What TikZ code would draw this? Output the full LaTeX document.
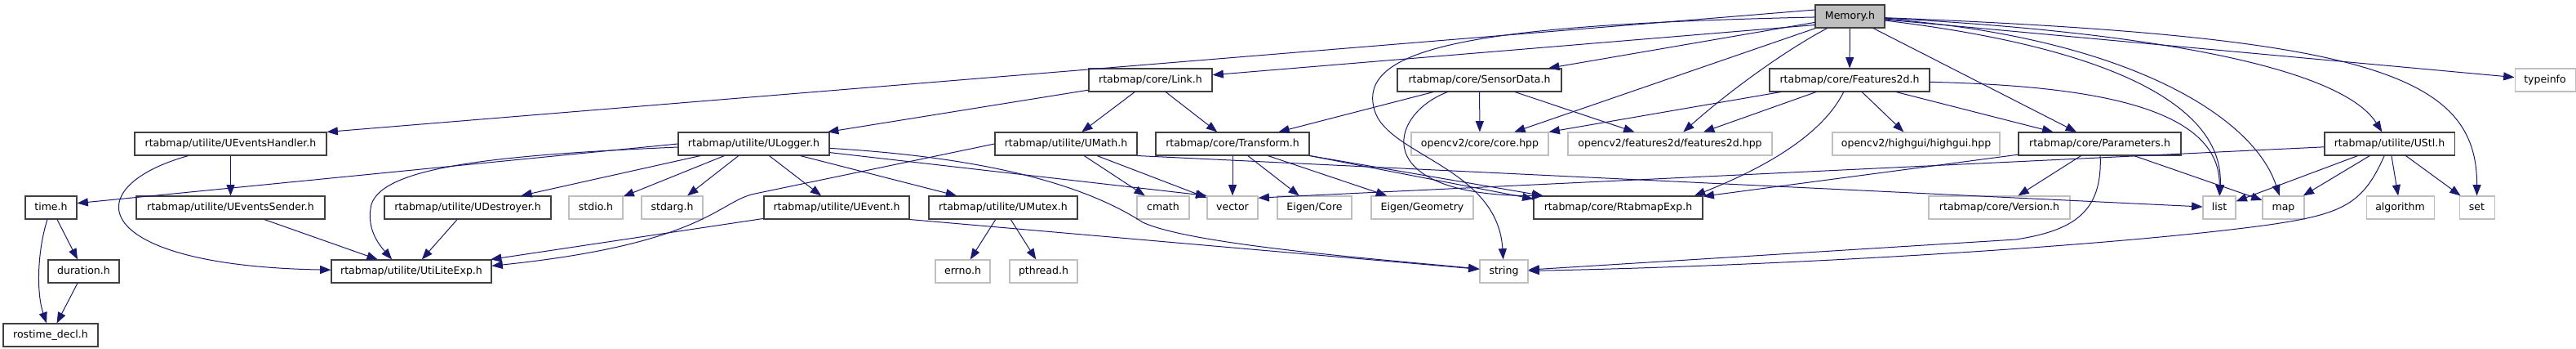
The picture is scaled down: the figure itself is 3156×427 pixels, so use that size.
\documentclass[tikz,border=0pt]{standalone}
\usepackage{fontspec}
\setmainfont{DejaVu Sans}
\usepackage{xcolor}
\definecolor{graph-edge}{HTML}{191970}
\definecolor{graph-box}{HTML}{404040}
\definecolor{graph-grey}{HTML}{BFBFBF}
\usepackage{tikz}
\usetikzlibrary{arrows.meta}

\tikzset{
    file/.style={fill=white, line width=0.8pt, inner sep=0pt, minimum height=21pt,
        minimum width=#1*0.75pt, text height=7pt, text depth=2pt,
        font=\fontsize{9.4}{11}\selectfont},
    hfile/.style={file=#1, draw=graph-box},
    sysfile/.style={file=#1, draw=graph-grey},
    incl/.style={graph-edge, line width=0.75pt, -{Triangle[length=10pt, width=7.5pt]}}
}

\begin{document}
\begin{tikzpicture}[x=0.75pt, y=-0.75pt]

    \useasboundingbox (0,0) rectangle (3156,427);

    % Root file
    \node[hfile=85, fill=graph-grey] (memory) at (2266.5,20) {Memory.h};

    % First level
    \node[hfile=151] (link) at (1409.5,98) {rtabmap/core/Link.h};
    \node[hfile=201] (sensordata) at (1812.5,98) {rtabmap/core/SensorData.h};
    \node[hfile=196] (features2d) at (2266,98) {rtabmap/core/Features2d.h};
    \node[sysfile=74] (typeinfo) at (3118,98) {typeinfo};

    % Second level
    \node[hfile=235] (ueventshandler) at (282.5,176) {rtabmap/utilite/UEventsHandler.h};
    \node[hfile=185] (ulogger) at (923.5,176) {rtabmap/utilite/ULogger.h};
    \node[hfile=174] (umath) at (1306,176) {rtabmap/utilite/UMath.h};
    \node[hfile=188] (transform) at (1510,176) {rtabmap/core/Transform.h};
    \node[sysfile=168] (corehpp) at (1813,176) {opencv2/core/core.hpp};
    \node[sysfile=250] (features2dhpp) at (2046,176) {opencv2/features2d/features2d.hpp};
    \node[sysfile=205] (highguihpp) at (2347.5,176) {opencv2/highgui/highgui.hpp};
    \node[hfile=199] (parameters) at (2572.5,176) {rtabmap/core/Parameters.h};
    \node[hfile=159] (ustl) at (2927.5,176) {rtabmap/utilite/UStl.h};

    % Third level
    \node[hfile=63] (timeh) at (62.5,254) {time.h};
    \node[hfile=231] (ueventssender) at (282.5,254) {rtabmap/utilite/UEventsSender.h};
    \node[hfile=204] (udestroyer) at (573,254) {rtabmap/utilite/UDestroyer.h};
    \node[sysfile=66] (stdio) at (730,254) {stdio.h};
    \node[sysfile=75] (stdarg) at (823.5,254) {stdarg.h};
    \node[hfile=178] (uevent) at (1025,254) {rtabmap/utilite/UEvent.h};
    \node[hfile=182] (umutex) at (1229,254) {rtabmap/utilite/UMutex.h};
    \node[sysfile=64] (cmath) at (1425,254) {cmath};
    \node[sysfile=62] (vector) at (1510,254) {vector};
    \node[sysfile=91] (eigencore) at (1610.5,254) {Eigen/Core};
    \node[sysfile=125] (eigengeometry) at (1742.5,254) {Eigen/Geometry};
    \node[hfile=207] (rtabmapexp) at (1982.5,254) {rtabmap/core/RtabmapExp.h};
    \node[sysfile=173] (version) at (2449.5,254) {rtabmap/core/Version.h};
    \node[sysfile=40] (list) at (2719,254) {list};
    \node[sysfile=51] (map) at (2797.5,254) {map};
    \node[sysfile=83] (algorithm) at (2940.5,254) {algorithm};
    \node[sysfile=43] (set) at (3034.5,254) {set};

    % Fourth and fifth level
    \node[hfile=87] (duration) at (102.5,332) {duration.h};
    \node[hfile=196] (utiliteexp) at (504,332) {rtabmap/utilite/UtiLiteExp.h};
    \node[sysfile=67] (errno) at (1179.5,332) {errno.h};
    \node[sysfile=83] (pthread) at (1278.5,332) {pthread.h};
    \node[sysfile=59] (string) at (1842.5,332) {string};
    \node[hfile=116] (rostimedecl) at (62,410) {rostime\_decl.h};

    % Memory.h
    \draw[incl] ([yshift=6pt]memory.west) -- (ueventshandler.north east);
    \draw[incl] ([yshift=3pt]memory.south west) -- (link);
    \draw[incl] (memory) -- (sensordata);
    \draw[incl] (memory) .. controls (1820,30) and (1660,55) .. (1684,135) .. controls (1700,190) and (1835,205) .. (string);
    \draw[incl] (memory) -- (corehpp);
    \draw[incl] (memory) .. controls (2190,60) and (2120,110) .. (features2dhpp);
    \draw[incl] (memory) -- (features2d);
    \draw[incl] (memory) -- (parameters);
    \draw[incl] (memory) .. controls (2560,55) and (2725,120) .. (list);
    \draw[incl] (memory) .. controls (2600,45) and (2760,140) .. (map);
    \draw[incl] (memory) .. controls (2650,40) and (2870,85) .. (ustl);
    \draw[incl] (memory) .. controls (2900,45) and (3035,90) .. (set);
    \draw[incl] (memory) -- (typeinfo);

    % Link.h
    \draw[incl] (link) -- (ulogger);
    \draw[incl] (link) -- (umath);
    \draw[incl] (link) -- (transform);

    % SensorData.h
    \draw[incl] (sensordata) -- (transform);
    \draw[incl] (sensordata) -- (corehpp);
    \draw[incl] (sensordata) -- (features2dhpp);
    \draw[incl] (sensordata) .. controls (1700,140) and (1675,240) .. ([xshift=9pt]rtabmapexp.north west);

    % Features2d.h
    \draw[incl] (features2d) -- (corehpp);
    \draw[incl] (features2d) -- (features2dhpp);
    \draw[incl] (features2d) -- (highguihpp);
    \draw[incl] (features2d) .. controls (2230,170) and (2150,210) .. ([xshift=-8pt]rtabmapexp.north east);
    \draw[incl] (features2d) -- (parameters);
    \draw[incl] (features2d) .. controls (2560,105) and (2720,130) .. (list);

    % ULogger.h
    \draw[incl] (ulogger.west) -- ([yshift=4pt]timeh.east);
    \draw[incl] (ulogger) .. controls (600,190) and (470,205) .. (455,250) .. controls (448,280) and (465,300) .. ([xshift=56pt]utiliteexp.north west);
    \draw[incl] (ulogger) -- (udestroyer);
    \draw[incl] (ulogger) -- (stdio);
    \draw[incl] (ulogger) -- (stdarg);
    \draw[incl] (ulogger) -- (uevent);
    \draw[incl] (ulogger) -- (umutex);
    \draw[incl] (ulogger) -- (vector.north west);
    \draw[incl] (ulogger) .. controls (1250,195) and (1350,240) .. (1400,272) .. controls (1460,300) and (1700,318) .. (string);

    % UMath.h
    \draw[incl] (umath.west) -- (925,237) .. controls (880,246) and (865,298) .. ([yshift=5pt]utiliteexp.east);
    \draw[incl] (umath) -- (cmath);
    \draw[incl] (umath) -- (vector);
    \draw[incl] (umath.south east) -- (list);

    % Transform.h
    \draw[incl] (transform) -- (vector);
    \draw[incl] (transform) -- (eigencore);
    \draw[incl] (transform) -- (eigengeometry);
    \draw[incl] (transform.south east) -- ([yshift=-3pt]rtabmapexp.north west);
    \draw[incl] (transform.south east) -- ([xshift=9pt]rtabmapexp.north west);

    % Other utilite headers
    \draw[incl] (ueventshandler) -- (ueventssender);
    \draw[incl] (ueventshandler) .. controls (90,230) and (110,325) .. (utiliteexp);
    \draw[incl] (ueventssender) -- (utiliteexp);
    \draw[incl] (udestroyer) -- (utiliteexp);
    \draw[incl] (uevent) -- (utiliteexp);
    \draw[incl] (uevent.south east) -- (string);
    \draw[incl] (umutex) -- (errno);
    \draw[incl] (umutex) -- (pthread);

    % time.h
    \draw[incl] (timeh) -- (duration);
    \draw[incl] (timeh) .. controls (45,310) and (45,360) .. (rostimedecl);
    \draw[incl] (duration) -- (rostimedecl);

    % Parameters.h
    \draw[incl] (parameters) -- (version);
    \draw[incl] (parameters) -- (rtabmapexp);
    \draw[incl] (parameters) -- (map);
    \draw[incl] (parameters) .. controls (2576,260) and (2540,282) .. (2470,293) -- (string);

    % UStl.h
    \draw[incl] (ustl) -- (list);
    \draw[incl] (ustl) -- (map);
    \draw[incl] (ustl) .. controls (2895,250) and (2870,262) .. (2780,275) .. controls (2600,300) and (2200,325) .. (string);
    \draw[incl] (ustl) -- (algorithm);
    \draw[incl] (ustl) -- (set);
    \draw[incl] (ustl) -- ([yshift=-2pt]vector.north east);

\end{tikzpicture}
\end{document}
